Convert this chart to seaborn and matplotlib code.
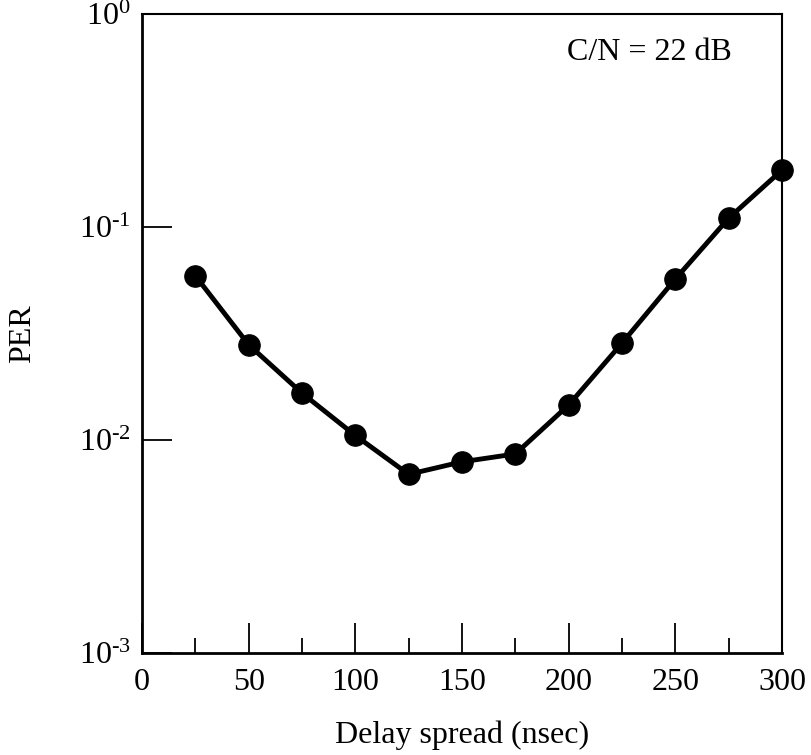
import matplotlib
matplotlib.use("Agg")
import matplotlib.pyplot as plt
import seaborn as sns
import pandas as pd
from matplotlib.ticker import FixedLocator, MultipleLocator, NullLocator

delay = [25, 50, 75, 100, 125, 150, 175, 200, 225, 250, 275, 300]
per = [0.059, 0.028, 0.0166, 0.0105, 0.0069, 0.0079, 0.0086, 0.0146, 0.0285, 0.057, 0.110, 0.185]
x_ticks = [0, 50, 100, 150, 200, 250, 300]
y_ticks = [1e-3, 1e-2, 1e-1, 1e0]
y_tick_labels = [r"$10^{\text{-}3}$", r"$10^{\text{-}2}$", r"$10^{\text{-}1}$", r"$10^{0}$"]

sns.set_theme(style="ticks")
plt.rcParams["font.family"] = ["Liberation Serif", "DejaVu Serif"]
plt.rcParams["mathtext.fontset"] = "custom"
plt.rcParams["mathtext.rm"] = "Liberation Serif"
plt.rcParams["mathtext.it"] = "Liberation Serif:italic"
plt.rcParams["mathtext.default"] = "rm"

df = pd.DataFrame({"Delay spread (nsec)": delay, "PER": per})

fig = plt.figure(figsize=(8.12, 7.55), dpi=100)
ax = fig.add_axes([142/812, 1-653/755, (782-142)/812, (653-14)/755])

sns.lineplot(data=df, x="Delay spread (nsec)", y="PER", ax=ax, color="black",
             linewidth=3.5, marker="o", markersize=15.5, markeredgecolor="black",
             markerfacecolor="black", clip_on=False)

ax.set_yscale("log")
ax.set_xlim(0, 300)
ax.set_ylim(1e-3, 1e0)

ax.xaxis.set_major_locator(FixedLocator(x_ticks))
ax.xaxis.set_minor_locator(MultipleLocator(25))
ax.yaxis.set_major_locator(FixedLocator(y_ticks))
ax.yaxis.set_minor_locator(NullLocator())
ax.set_yticklabels(y_tick_labels)

ax.tick_params(axis="both", which="major", direction="in", length=21.6, width=1.3,
               labelsize=23, color="black", labelcolor="black")
ax.tick_params(axis="x", which="major", pad=11)
ax.tick_params(axis="y", which="major", pad=8)
ax.tick_params(axis="x", which="minor", direction="in", length=10.8, width=1.3, color="black")

for s in ax.spines.values():
    s.set_color("black")
    s.set_linewidth(1.5)
ax.spines["left"].set_linewidth(2)
ax.spines["bottom"].set_linewidth(2)

ax.set_xlabel("Delay spread (nsec)", fontsize=23, color="black", labelpad=17)
ax.set_ylabel("PER", fontsize=23, color="black", labelpad=30)
ax.text(0.664, 0.940, "C/N = 22 dB", transform=ax.transAxes, fontsize=23,
        color="black", va="center", ha="left")

fig.savefig("out.png", dpi=100)
